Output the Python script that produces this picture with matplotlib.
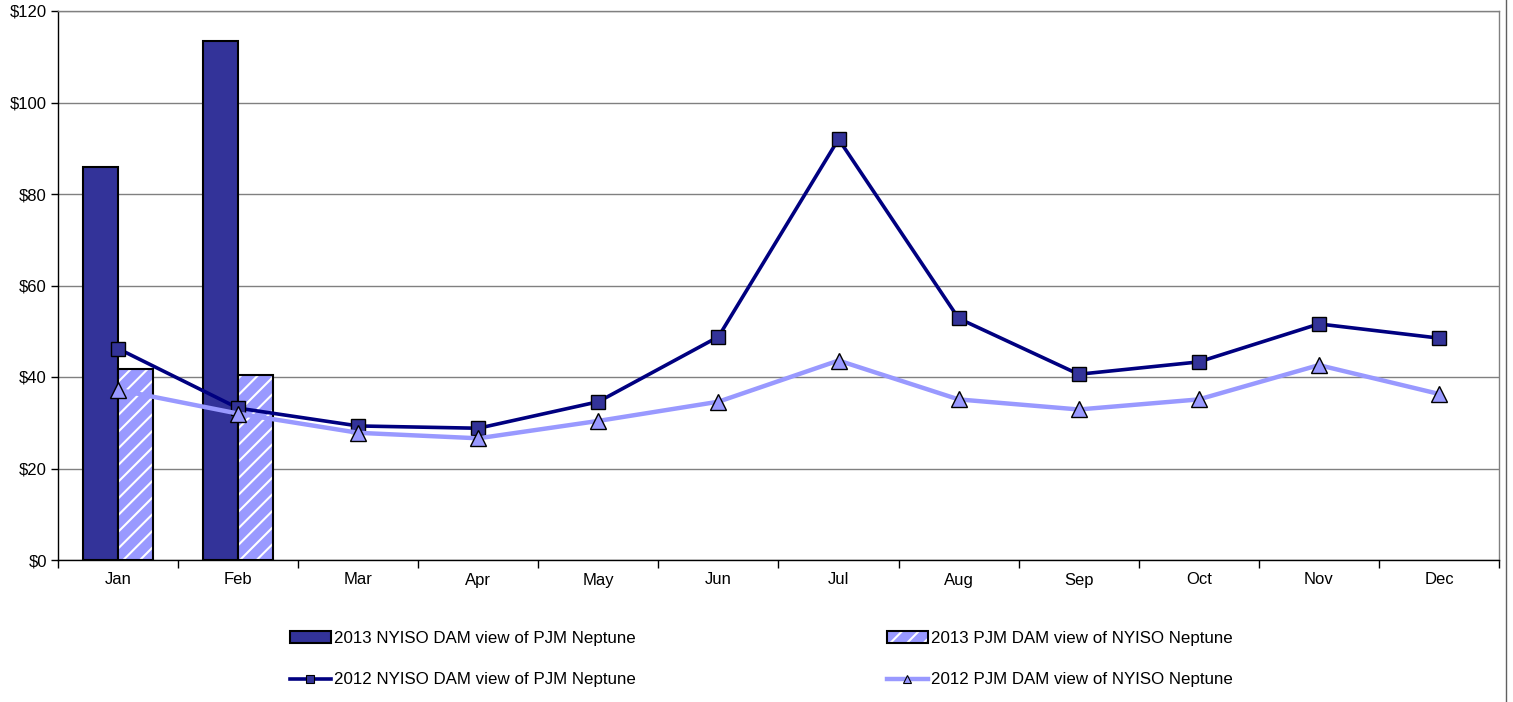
import matplotlib
matplotlib.use("Agg")
import matplotlib.pyplot as plt
import numpy as np
from matplotlib.lines import Line2D
from matplotlib.patches import Patch
from matplotlib.ticker import FixedLocator, FuncFormatter

plt.rcParams['font.family'] = ['Liberation Sans', 'DejaVu Sans']
plt.rcParams['hatch.linewidth'] = 1.5

months = ['Jan', 'Feb', 'Mar', 'Apr', 'May', 'Jun', 'Jul', 'Aug', 'Sep', 'Oct', 'Nov', 'Dec']
nyiso_2013 = [85.9, 113.4]
pjm_2013 = [41.7, 40.4]
nyiso_2012 = [46.2, 33.2, 29.3, 28.8, 34.6, 48.8, 92.0, 52.8, 40.6, 43.3, 51.6, 48.5]
pjm_2012 = [37.2, 32.0, 27.8, 26.6, 30.4, 34.6, 43.6, 35.1, 32.9, 35.1, 42.6, 36.3]
yticks = [0, 20, 40, 60, 80, 100, 120]

fig = plt.figure(figsize=(15.13, 7.02), dpi=100)
ax = fig.add_axes([58/1513, 1-560/702, (1499-58)/1513, (560-11)/702])

x = np.arange(len(months))
w = 0.29
xb = np.arange(len(nyiso_2013))
ax.bar(xb - w/2, nyiso_2013, width=w, color='#333399', edgecolor='black', linewidth=1.5, zorder=3)
ax.bar(xb + w/2, pjm_2013, width=w, color='#9999FF', edgecolor='white', hatch='//', linewidth=0, zorder=3)
ax.bar(xb + w/2, pjm_2013, width=w, fill=False, edgecolor='black', linewidth=1.5, zorder=3)

ax.plot(x, nyiso_2012, color='#000080', lw=2.6, marker='s', markersize=10,
        markerfacecolor='#333399', markeredgecolor='black', markeredgewidth=1.0, zorder=4)
ax.plot(x, pjm_2012, color='#9999FF', lw=3.2, marker='^', markersize=11,
        markerfacecolor='#9999FF', markeredgecolor='black', markeredgewidth=1.0, zorder=5)

ax.set_xlim(-0.5, 11.5)
ax.set_ylim(0, 120)
ax.set_yticks(yticks)
ax.yaxis.set_major_formatter(FuncFormatter(lambda v, p: f'${int(v)}'))
ax.tick_params(axis='y', direction='out', length=5, width=1, labelsize=12, pad=3, color='black')
ax.grid(axis='y', color='#808080', lw=1, zorder=0)

ax.xaxis.set_major_locator(FixedLocator(np.arange(-0.5, 12, 1)))
ax.xaxis.set_major_formatter(FuncFormatter(lambda v, p: ''))
ax.xaxis.set_minor_locator(FixedLocator(x))
ax.set_xticks(x, months, minor=True)
ax.tick_params(axis='x', which='major', direction='out', length=6, width=1, color='black')
ax.tick_params(axis='x', which='minor', length=0, labelsize=12, pad=9)

for s in ['left', 'bottom']:
    ax.spines[s].set_color('black')
    ax.spines[s].set_linewidth(1)
for s in ['top', 'right']:
    ax.spines[s].set_color('#808080')
    ax.spines[s].set_linewidth(1)

fig.add_artist(Line2D([1506/1513, 1506/1513], [0, 1], transform=fig.transFigure, color='#606060', lw=1))

h1 = Patch(facecolor='#333399', edgecolor='black', linewidth=1.5)
h3 = Line2D([], [], color='#000080', lw=2.6, marker='s', markersize=6,
            markerfacecolor='#333399', markeredgecolor='black', markeredgewidth=0.8)
h2 = (Patch(facecolor='#9999FF', edgecolor='white', hatch='//', linewidth=0),
      Patch(fill=False, edgecolor='black', linewidth=1.5))
h4 = Line2D([], [], color='#9999FF', lw=3.2, marker='^', markersize=6,
            markerfacecolor='#9999FF', markeredgecolor='black', markeredgewidth=0.8)

common = dict(frameon=False, fontsize=12.2, handlelength=2.4, handletextpad=0.18,
              labelspacing=1.56, borderaxespad=0, borderpad=0, loc='upper left')
leg1 = fig.legend([h1, h3], ['2013 NYISO DAM view of PJM Neptune', '2012 NYISO DAM view of PJM Neptune'],
                  bbox_to_anchor=(290/1513, 1-631/702), **common)
leg2 = fig.legend([h2, h4], ['2013 PJM DAM view of NYISO Neptune', '2012 PJM DAM view of NYISO Neptune'],
                  bbox_to_anchor=(887/1513, 1-631/702), **common)

fig.savefig('out.png', dpi=100)
